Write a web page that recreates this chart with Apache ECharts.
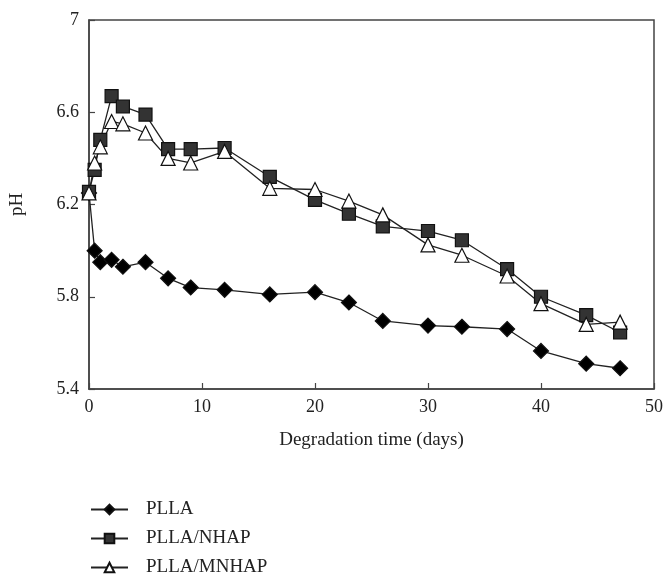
<!DOCTYPE html>
<html>
<head>
<meta charset="utf-8">
<script src="https://cdn.jsdelivr.net/npm/echarts@6/dist/echarts.min.js"></script>
<style>
  html, body { margin: 0; padding: 0; background: #fff; }
  #chart { width: 667px; height: 580px; }
</style>
</head>
<body>
<div id="chart"></div>
<script>
// degradation days and pH readings
const plla = [
  [0, 6.25], [0.5, 6.0], [1, 5.95], [2, 5.96], [3, 5.93], [5, 5.95], [7, 5.88], [9, 5.84],
  [12, 5.83], [16, 5.81], [20, 5.82], [23, 5.775], [26, 5.695], [30, 5.675], [33, 5.67],
  [37, 5.66], [40, 5.565], [44, 5.51], [47, 5.49]
];
const pllaNhap = [
  [0, 6.255], [0.5, 6.35], [1, 6.48], [2, 6.67], [3, 6.625], [5, 6.59], [7, 6.44], [9, 6.44],
  [12, 6.445], [16, 6.32], [20, 6.22], [23, 6.16], [26, 6.105], [30, 6.085], [33, 6.045],
  [37, 5.92], [40, 5.80], [44, 5.72], [47, 5.645]
];
const pllaMnhap = [
  [0, 6.25], [0.5, 6.38], [1, 6.45], [2, 6.56], [3, 6.55], [5, 6.51], [7, 6.40], [9, 6.38],
  [12, 6.43], [16, 6.27], [20, 6.265], [23, 6.215], [26, 6.155], [30, 6.025], [33, 5.98],
  [37, 5.89], [40, 5.77], [44, 5.68], [47, 5.69]
];

const FONT = 'Liberation Serif';
const INK = '#222';

const chart = echarts.init(document.getElementById('chart'));

function lineSeries(name, data, symbol, size, fill) {
  return {
    name: name,
    type: 'line',
    data: data,
    symbol: symbol,
    symbolSize: size,
    showAllSymbol: true,
    animation: false,
    lineStyle: { color: INK, width: 1.3 },
    itemStyle: { color: fill, borderColor: '#111', borderWidth: 1.2 },
  };
}

chart.setOption({
  backgroundColor: '#fff',
  grid: {
    left: 88, right: 13, top: 20, bottom: 191,
    show: true, borderColor: '#444', borderWidth: 1.5,
  },
  legend: {
    orient: 'vertical',
    left: 90,
    top: 500,
    height: 80,
    padding: 0,
    itemWidth: 37,
    itemHeight: 12,
    itemGap: 10,
    textStyle: { fontFamily: FONT, fontSize: 19, color: INK, padding: [0, 0, 0, 13] },
    data: ['PLLA', 'PLLA/NHAP', 'PLLA/MNHAP'],
  },
  xAxis: {
    type: 'value',
    min: 0, max: 50, interval: 10,
    name: 'Degradation time (days)',
    nameLocation: 'middle',
    nameGap: 42,
    nameTextStyle: { fontFamily: FONT, fontSize: 19, color: INK },
    axisLine: { lineStyle: { color: '#444', width: 1.5 } },
    axisTick: { inside: true, length: 6, lineStyle: { color: '#444', width: 1.2 } },
    axisLabel: { fontFamily: FONT, fontSize: 18, color: INK, margin: 9 },
    splitLine: { show: false },
  },
  yAxis: {
    type: 'value',
    min: 5.4, max: 7, interval: 0.4,
    name: 'pH',
    nameLocation: 'middle',
    nameGap: 62,
    nameRotate: 90,
    nameTextStyle: { fontFamily: FONT, fontSize: 19, color: INK },
    axisLine: { lineStyle: { color: '#444', width: 1.5 } },
    axisTick: { inside: true, length: 6, lineStyle: { color: '#444', width: 1.2 } },
    axisLabel: {
      fontFamily: FONT, fontSize: 18, color: INK, margin: 10,
      formatter: (v) => (Math.abs(v - 7) < 1e-6 ? '7' : v.toFixed(1)),
    },
    splitLine: { show: false },
  },
  series: [
    lineSeries('PLLA', plla, 'diamond', 15, '#000'),
    lineSeries('PLLA/NHAP', pllaNhap, 'rect', 13, '#333'),
    lineSeries('PLLA/MNHAP', pllaMnhap, 'triangle', 14, '#fff'),
  ],
});
</script>
</body>
</html>
